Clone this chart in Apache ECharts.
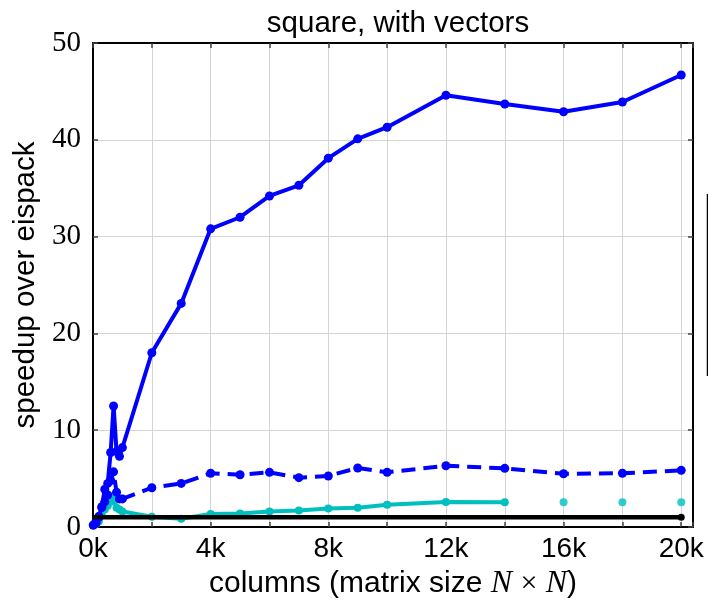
<!DOCTYPE html>
<html>
<head>
<meta charset="utf-8">
<script src="https://cdn.jsdelivr.net/npm/echarts@6/dist/echarts.min.js"></script>
<style>html,body{margin:0;padding:0;background:#fff;}#c{width:708px;height:604px;}</style>
</head>
<body>
<div id="c"></div>
<script>
// ---- data ----
var columns = [10, 100, 200, 300, 400, 500, 600, 700, 800, 900, 1000,
  2000, 3000, 4000, 5000, 6000, 7000, 8000, 9000, 10000, 12000, 14000, 16000, 18000, 20000];
var solidBlue = [0.2, 0.5, 1.1, 2.1, 3.9, 4.5, 7.7, 12.5, 7.8, 7.3, 8.2,
  18.0, 23.1, 30.8, 32.0, 34.2, 35.3, 38.1, 40.1, 41.3, 44.6, 43.7, 42.9, 43.9, 46.7];
var dashedBlue = [0.2, 0.4, 1.0, 2.0, 2.6, 3.3, 4.8, 5.7, 3.6, 2.9, 2.9,
  4.06, 4.5, 5.55, 5.4, 5.65, 5.1, 5.27, 6.1, 5.65, 6.33, 6.06, 5.5, 5.55, 5.85];
var cyanCols = [10, 100, 200, 300, 400, 500, 600, 700, 800, 900, 1000,
  2000, 3000, 4000, 5000, 6000, 7000, 8000, 9000, 10000, 12000, 14000];
var cyanLine = [0.2, 0.3, 0.6, 1.2, 1.8, 2.2, 2.6, 3.2, 2.0, 1.8, 1.6,
  1.06, 0.85, 1.34, 1.4, 1.6, 1.7, 1.9, 2.0, 2.3, 2.58, 2.55];
var cyanIsoCols = [16000, 18000, 20000];
var cyanIso = [2.55, 2.55, 2.55];
var baseline = columns.map(function(){ return 1; });
var xTickLabels = ['0k', '4k', '8k', '12k', '16k', '20k'];
var yTickLabels = ['0', '10', '20', '30', '40', '50'];

function pairs(xs, ys){ return xs.map(function(x,i){ return [x, ys[i]]; }); }

var chart = echarts.init(document.getElementById('c'));
var sans = 'Liberation Sans';
var serif = 'Liberation Serif';
var gridColor = '#d4d4d4';
var tickStyle = {show:true, inside:true, length:5, lineStyle:{color:'#444', width:1.5}};

chart.setOption({
  animation:false,
  backgroundColor:'#fff',
  title:{text:'square, with vectors', left:393, textAlign:'center', top:4,
    textStyle:{fontFamily:sans, fontWeight:'normal', fontSize:29.5, color:'#000'}},
  grid:{left:93, right:15, top:43, bottom:77, containLabel:false, outerBoundsMode:'none'},
  xAxis:[{
    type:'value', min:0, max:20400, interval:2000, position:'bottom',
    name:'columns (matrix size {m|N} {s|×} {m|N})', nameLocation:'middle', nameGap:25,
    nameTextStyle:{fontFamily:sans, fontSize:30, color:'#000',
      rich:{m:{fontFamily:serif, fontStyle:'italic', fontSize:32, color:'#000'},
            s:{fontFamily:serif, fontSize:30, color:'#000'}}},
    axisLine:{show:true, onZero:false, lineStyle:{color:'#000', width:2}},
    axisTick:tickStyle,
    axisLabel:{fontFamily:sans, fontSize:28, color:'#000', margin:8,
      formatter:function(v){ if (v % 4000 === 0 && v <= 20000) return xTickLabels[v/4000]; return ''; }},
    splitLine:{show:true, lineStyle:{color:gridColor, width:1}}
  },{
    type:'value', min:0, max:20400, interval:2000, position:'top',
    axisLine:{show:true, onZero:false, lineStyle:{color:'#000', width:2}},
    axisTick:tickStyle, axisLabel:{show:false}, splitLine:{show:false}
  }],
  yAxis:[{
    type:'value', min:0, max:50, interval:10, position:'left',
    name:'speedup over eispack', nameLocation:'middle', nameGap:47,
    nameTextStyle:{fontFamily:sans, fontSize:29.5, color:'#000'},
    axisLine:{show:true, onZero:false, lineStyle:{color:'#000', width:2}},
    axisTick:tickStyle,
    axisLabel:{fontFamily:serif, fontSize:29, color:'#000', margin:12,
      formatter:function(v){ return yTickLabels[v/10]; }},
    splitLine:{show:true, lineStyle:{color:gridColor, width:1}}
  },{
    type:'value', min:0, max:50, interval:10, position:'right',
    axisLine:{show:true, onZero:false, lineStyle:{color:'#000', width:2}},
    axisTick:tickStyle, axisLabel:{show:false}, splitLine:{show:false}
  }],
  series:[
    {type:'line', name:'baseline', data:pairs(columns, baseline), z:5,
      symbol:'circle', symbolSize:function(v, p){ return p.dataIndex === columns.length-1 ? 7 : 0; },
      itemStyle:{color:'#000'}, lineStyle:{color:'#000', width:4.5}},
    {type:'line', name:'cyan', data:pairs(cyanCols, cyanLine), z:3,
      symbol:'circle', symbolSize:8, itemStyle:{color:'#00bfbf'}, lineStyle:{color:'#00bfbf', width:4}},
    {type:'scatter', name:'cyan iso', data:pairs(cyanIsoCols, cyanIso), z:3,
      symbol:'circle', symbolSize:8, itemStyle:{color:'#00bfbf'}},
    {type:'line', name:'dashed', data:pairs(columns, dashedBlue), z:4,
      symbol:'circle', symbolSize:9, itemStyle:{color:'#0000ff'},
      lineStyle:{color:'#0000ff', width:4, type:[14, 8]}},
    {type:'line', name:'solid', data:pairs(columns, solidBlue), z:4,
      symbol:'circle', symbolSize:9, itemStyle:{color:'#0000ff'}, lineStyle:{color:'#0000ff', width:4}}
  ],
  graphic:[{type:'line', shape:{x1:707.5, y1:194, x2:707.5, y2:376}, style:{stroke:'#000', lineWidth:1.5}}]
});
</script>
</body>
</html>
